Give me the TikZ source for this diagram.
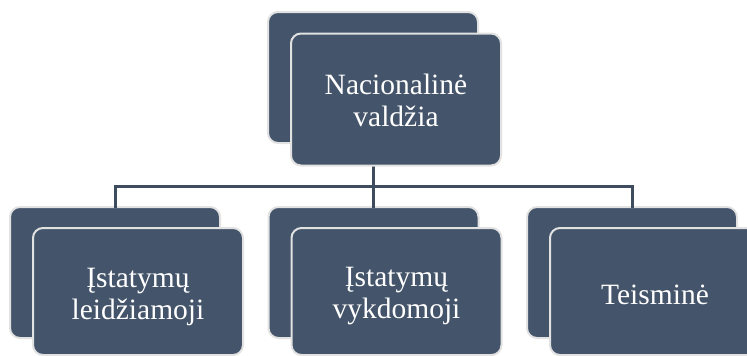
\documentclass[tikz,border=0pt]{standalone}
\usepackage{fontspec}
\setmainfont{Liberation Serif}
\definecolor{boxfill}{HTML}{44546A}
\definecolor{boxedge}{HTML}{E2E2E2}
\definecolor{linkcol}{HTML}{3E4C60}
\tikzset{
  card/.style={draw=boxedge, line width=2pt, fill=boxfill, rounded corners=10pt,
    minimum width=210pt, inner sep=0pt},
  cardtext/.style={text=white, align=center, inner sep=0pt,
    font=\fontsize{29.5}{32}\selectfont},
  link/.style={draw=linkcol, line width=3pt}
}
\begin{document}
\begin{tikzpicture}[x=1pt,y=-1pt]
\useasboundingbox (0,0) rectangle (747,356);
\clip (0,0) rectangle (747,356);
% rear cards
\node[card, minimum height=131pt] (topback) at (373,77.5) {};
\node[card, minimum height=131pt] (lback) at (115,272.5) {};
\node[card, minimum height=131pt] (mback) at (373.5,272.5) {};
\node[card, minimum height=131pt] (rback) at (632,272.5) {};
% tree connectors
\coordinate (bar) at (373,186);
\coordinate (mtop) at ([yshift=-2pt]mback.north);
\draw[link] (topback.south) -- (bar);
\draw[link] ([yshift=-2pt]lback.north) |- (bar) -| ([yshift=-2pt]rback.north);
\draw[link] (bar) -- (bar |- mtop);
% front cards
\node[card, minimum height=132pt] (top) at (396,99.5) {};
\node[card, minimum height=127pt] (left) at (138,291.5) {};
\node[card, minimum height=127pt] (mid) at (396.5,291.5) {};
\node[card, minimum height=127pt] (right) at (655,291.5) {};
% card captions
\node[cardtext] (toptext) at ([yshift=-0.5pt]top.center) {Nacionalinė\\valdžia};
\node[cardtext] (lefttext) at ([yshift=-5pt]left.center) {Įstatymų\\leidžiamoji};
\node[cardtext] (midtext) at ([yshift=-5pt]mid.center) {Įstatymų\\vykdomoji};
\node[cardtext] (righttext) at ([yshift=-3pt]right.center) {Teisminė};
\end{tikzpicture}
\end{document}
